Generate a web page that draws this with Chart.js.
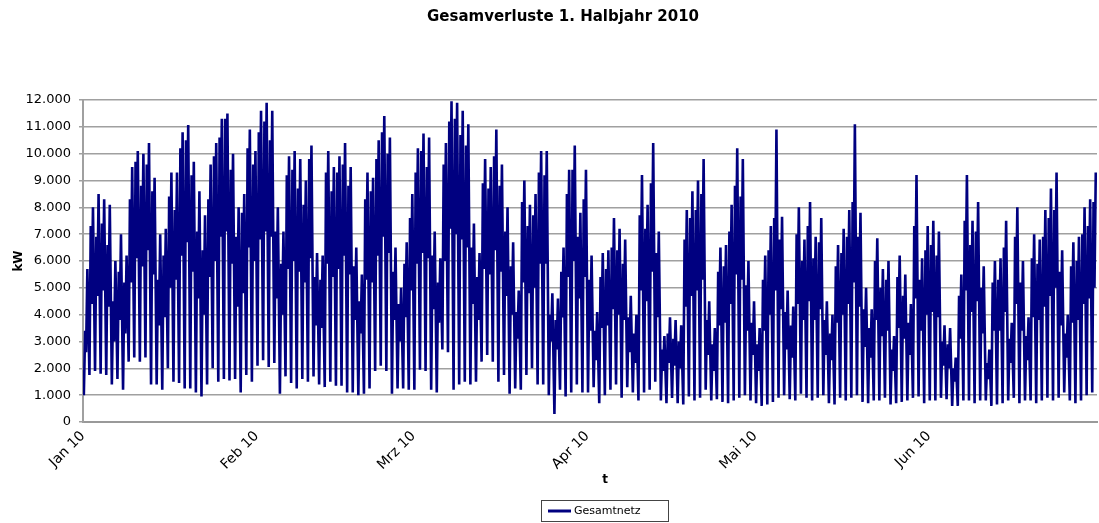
<!DOCTYPE html>
<html>
<head>
<meta charset="utf-8">
<script src="https://cdn.jsdelivr.net/npm/chart.js@4/dist/chart.umd.min.js"></script>
<style>
html,body{margin:0;padding:0;background:#fff;overflow:hidden}
#c{display:block}
</style>
</head>
<body>
<canvas id="c" width="1099" height="523"></canvas>
<script>
// ---- data (kW), 1 Jan 2010 .. 30 Jun 2010, four readings per day ----
const chartTitle = 'Gesamverluste 1. Halbjahr 2010';
const seriesName = 'Gesamtnetz';
const yAxisTitle = 'kW';
const xAxisTitle = 't';
const monthLabels = ['Jan 10', 'Feb 10', 'Mrz 10', 'Apr 10', 'Mai 10', 'Jun 10'];
const monthStartDays = [0, 31, 59, 90, 120, 151];

// night minimum
const dailyLow = [
  1000, 1750, 1900, 1800, 1750, 1400, 1600, 1200, 2250, 2400,
  2250, 2400, 1400, 1400, 1200, 2000, 1500, 1450, 1250, 1250,
  1100, 950, 1400, 2000, 1500, 1600, 1550, 1600, 1100, 1750, 1500,
  2100, 2300, 2050, 2200, 1050, 1700, 1450, 1250, 1600, 1500,
  1700, 1400, 1300, 1500, 1350, 1350, 1100, 1100, 1000, 1050,
  1250, 1900, 2100, 1900, 1050, 1250, 1250, 1200,
  1200, 1950, 1900, 1200, 1100, 2700, 2600, 1200, 1400, 1500,
  1400, 1500, 2250, 2500, 2250, 1500, 1750, 1050, 1250, 1200,
  1750, 2000, 1400, 1400, 1000, 300, 1200, 950, 1100, 1400, 1100,
  1100, 1300, 700, 1000, 1200, 1400, 900, 1300, 1100, 800,
  1100, 1200, 1500, 800, 700, 900, 700, 650, 950, 800,
  900, 1200, 800, 850, 750, 700, 800, 900, 1000, 800,
  700, 600, 650, 750, 900, 1000, 850, 800, 1050, 900,
  800, 900, 1000, 700, 650, 900, 800, 900, 1000, 750,
  700, 800, 800, 900, 650, 700, 750, 800, 900, 950, 700,
  800, 800, 900, 850, 600, 600, 800, 800, 700, 800,
  800, 600, 650, 700, 800, 900, 700, 800, 800, 700,
  800, 900, 800, 900, 1100, 800, 700, 800, 1000, 1100
];

// morning peak
const dailyMorning = [
  3400, 7300, 6900, 7400, 6600, 4500, 5600, 5200, 8300, 9700,
  8800, 9600, 8600, 5300, 6200, 8400, 7900, 10200, 10500, 9200,
  7100, 6400, 8300, 9900, 10600, 11300, 9400, 6900, 7800, 10200, 9600,
  10800, 11200, 10500, 7100, 5900, 9200, 9400, 8700, 8100, 9800,
  5400, 5300, 9300, 8600, 9300, 9600, 8800, 5800, 4500, 8300,
  8600, 9800, 10800, 10000, 5600, 4400, 5900, 7600,
  9300, 10100, 9500, 6200, 5200, 9600, 11200, 11300, 10700, 10300,
  6500, 5400, 8900, 8700, 9900, 8800, 7100, 5800, 4100, 8200,
  7300, 7700, 9300, 9200, 4000, 3800, 5600, 8500, 9400, 6900, 8300,
  5300, 3400, 5400, 5700, 6500, 6400, 5900, 3900, 3300, 7700,
  7200, 8900, 6300, 2700, 3300, 3100, 3000, 6800, 7600, 7900,
  8500, 3800, 2900, 5600, 5800, 7100, 8800, 8400, 5100, 3700,
  2900, 5300, 6400, 7600, 6800, 4100, 3600, 7000, 6000, 7300,
  6100, 6700, 3800, 3300, 5800, 6300, 6900, 8200, 6900, 4200,
  3500, 6000, 5000, 5300, 2700, 5400, 4700, 3700, 7300, 5300, 6400,
  6600, 6200, 3000, 2900, 2000, 4700, 7500, 6600, 7100, 5000,
  2200, 5200, 5300, 6500, 3100, 6900, 5200, 3200, 6100, 5900,
  6900, 7600, 7900, 5600, 3300, 5800, 6000, 7000, 7300, 8200
];

// midday dip
const dailyMidday = [
  2600, 4400, 4700, 4900, 4300, 3000, 3800, 3300, 5200, 6100,
  5800, 6400, 5500, 3600, 3900, 5000, 5300, 6200, 6700, 5600,
  4600, 4000, 5400, 6000, 6900, 7100, 5900, 4300, 4800, 6500, 6000,
  6800, 7100, 6900, 4600, 4000, 5700, 6000, 5600, 5200, 6100,
  3600, 3500, 5900, 5400, 5700, 6200, 5500, 3800, 3300, 5300,
  5200, 6200, 6900, 6300, 3800, 3000, 3900, 4900,
  5900, 6300, 6100, 4200, 3700, 6000, 7200, 7000, 6800, 6500,
  4400, 3800, 5700, 5500, 6400, 5600, 4700, 4000, 3100, 5200,
  4800, 5000, 5900, 5900, 3000, 2700, 3900, 5400, 6000, 4600, 5400,
  3400, 2300, 3500, 3600, 4200, 4000, 3800, 2600, 2200, 4900,
  4500, 5600, 3900, 1900, 2200, 2100, 2000, 4300, 4700, 4900,
  5300, 2500, 1900, 3600, 3700, 4400, 5500, 5300, 3400, 2500,
  1900, 3400, 4000, 4900, 4200, 2700, 2400, 4400, 3800, 4500,
  3800, 4200, 2500, 2300, 3700, 4000, 4400, 5200, 4300, 2800,
  2400, 3800, 3200, 3400, 1900, 3500, 3100, 2500, 4600, 3400, 4000,
  4100, 3900, 2100, 2000, 1500, 3100, 4900, 4100, 4500, 3300,
  1600, 3400, 3400, 4100, 2200, 4400, 3400, 2300, 3900, 3800,
  4300, 4700, 5000, 3600, 2400, 3700, 3800, 4400, 4600, 5000
];

// evening peak
const dailyPeak = [
  5700, 8000, 8500, 8300, 8100, 6000, 7000, 6200, 9500, 10100,
  10000, 10400, 9100, 7000, 7200, 9300, 9300, 10800, 11070, 9700,
  8600, 7700, 9600, 10400, 11300, 11500, 10000, 8000, 8500, 10900, 10100,
  11600, 11900, 11600, 8000, 7100, 9900, 10100, 9800, 9000, 10300,
  6300, 6200, 10100, 9500, 9900, 10400, 9500, 6500, 5500, 9300,
  9100, 10500, 11400, 10600, 6500, 5000, 6700, 8500,
  10200, 10750, 10600, 7100, 6100, 10400, 11950, 11900, 11600, 11100,
  7400, 6300, 9800, 9500, 10900, 9600, 8000, 6700, 4900, 9000,
  8100, 8500, 10100, 10100, 4800, 4600, 6500, 9400, 10300, 7800, 9400,
  6200, 4100, 6300, 6400, 7600, 7200, 6800, 4700, 4000, 9200,
  8100, 10400, 7100, 3200, 3900, 3800, 3600, 7900, 8600, 9000,
  9800, 4500, 3500, 6500, 6600, 8100, 10200, 9800, 6000, 4500,
  3500, 6200, 7300, 10900, 7650, 4900, 4300, 8000, 6800, 8200,
  6900, 7600, 4500, 4000, 6600, 7200, 7900, 11100, 7800, 5000,
  4200, 6850, 5700, 6000, 3200, 6200, 5500, 4400, 9200, 6100, 7300,
  7500, 7100, 3600, 3500, 2400, 5500, 9200, 7500, 8200, 5800,
  2700, 6000, 6100, 7500, 3700, 8000, 6000, 3900, 7000, 6800,
  7900, 8700, 9300, 6400, 4000, 6700, 6900, 8000, 8300, 9300
];

// time of day (fraction of the day) for the four readings
const readingTimes = [0.15, 0.38, 0.55, 0.78];

const points = [];
dailyLow.forEach((lo, d) => {
  const vals = [lo, dailyMorning[d], dailyMidday[d], dailyPeak[d]];
  vals.forEach((v, k) => points.push({x: d + readingTimes[k], y: v}));
});

function fmtThousands(v) {
  return String(Math.round(v)).replace(/\B(?=(\d{3})+(?!\d))/g, '.');
}

const textPlugin = {
  id: 'texts',
  afterDraw(chart) {
    const ctx = chart.ctx;
    const area = chart.chartArea;
    ctx.save();
    ctx.fillStyle = '#000';
    ctx.font = 'bold 15px "DejaVu Sans"';
    ctx.textAlign = 'center';
    ctx.textBaseline = 'middle';
    ctx.fillText(chartTitle, 563, 17);
    ctx.save();
    ctx.translate(19, (area.top + area.bottom) / 2);
    ctx.rotate(-Math.PI / 2);
    ctx.font = 'bold 12px "DejaVu Sans"';
    ctx.fillText(yAxisTitle, 0, 0);
    ctx.restore();
    ctx.font = 'bold 12px "DejaVu Sans"';
    ctx.fillText(xAxisTitle, 605, 480);
    ctx.strokeStyle = '#444';
    ctx.lineWidth = 1;
    ctx.strokeRect(541.5, 500.5, 127, 21);
    ctx.strokeStyle = '#000080';
    ctx.lineWidth = 3;
    ctx.beginPath();
    ctx.moveTo(548, 511);
    ctx.lineTo(571, 511);
    ctx.stroke();
    ctx.font = '11px "DejaVu Sans"';
    ctx.textAlign = 'left';
    ctx.fillText(seriesName, 574, 511);
    ctx.restore();
  }
};

new Chart(document.getElementById('c'), {
  type: 'line',
  data: {
    datasets: [{
      label: seriesName,
      data: points,
      borderColor: '#000080',
      backgroundColor: '#000080',
      borderWidth: 2.6,
      pointRadius: 0,
      tension: 0,
      fill: false
    }]
  },
  options: {
    responsive: false,
    animation: false,
    events: [],
    layout: {padding: {top: 100, right: 2, left: 0, bottom: 0}},
    plugins: {legend: {display: false}, title: {display: false}, tooltip: {enabled: false}},
    scales: {
      x: {
        type: 'linear',
        min: 0,
        max: 181,
        afterBuildTicks: s => { s.ticks = monthStartDays.map(v => ({value: v})); },
        afterFit: s => { s.height = 101; },
        grid: {display: false, drawTicks: false},
        border: {display: true, color: '#999', width: 2},
        ticks: {
          autoSkip: false, minRotation: 45, maxRotation: 45, padding: 6,
          color: '#000', font: {family: 'DejaVu Sans', size: 14},
          callback: v => { const i = monthStartDays.indexOf(v); return i >= 0 ? monthLabels[i] : ''; }
        }
      },
      y: {
        min: 0,
        max: 12000,
        afterFit: s => { s.width = 83; },
        grid: {color: '#a0a0a0', lineWidth: 1.5, tickLength: 4},
        border: {display: true, color: '#a0a0a0', width: 2},
        ticks: {
          stepSize: 1000, padding: 8, color: '#000',
          font: {family: 'DejaVu Sans', size: 13},
          callback: v => fmtThousands(v)
        }
      }
    }
  },
  plugins: [textPlugin]
});
</script>
</body>
</html>
